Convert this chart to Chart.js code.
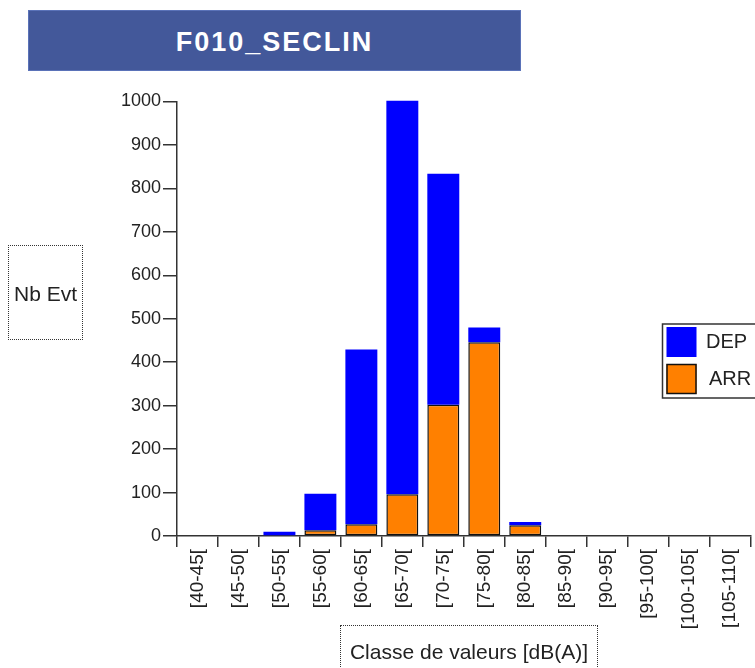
<!DOCTYPE html>
<html>
<head>
<meta charset="utf-8">
<script src="https://cdn.jsdelivr.net/npm/chart.js@4/dist/chart.umd.min.js"></script>
<style>
  html, body { margin: 0; padding: 0; background: #fff; overflow: hidden; }
  #wrap { position: relative; width: 755px; height: 668px; overflow: hidden; font-family: "Liberation Sans", Arial, sans-serif; }
  #c { position: absolute; left: 0; top: 0; }
  #title { position: absolute; left: 28px; top: 10px; width: 491px; height: 59px; background: #43589A; border: 1px solid #5A72B8;
           color: #fff; font-weight: bold; font-size: 27px; letter-spacing: 2px; text-align: center; line-height: 62px; }
  .box { position: absolute; border: 1.5px dotted #333; color: #222; font-size: 21px; text-align: center; }
  #ylab { left: 8px; top: 245px; width: 73px; height: 93px; line-height: 95px; }
  #xlab { left: 340px; top: 625px; width: 256px; height: 60px; line-height: 52px; font-size: 21px; }
</style>
</head>
<body>
<div id="wrap">
  <canvas id="c" width="755" height="668"></canvas>
  <div id="title">F010_SECLIN</div>
  <div class="box" id="ylab">Nb Evt</div>
  <div class="box" id="xlab">Classe de valeurs [dB(A)]</div>
</div>
<script>
const categories = ["[40-45[", "[45-50[", "[50-55[", "[55-60[", "[60-65[", "[65-70[", "[70-75[",
                    "[75-80[", "[80-85[", "[85-90[", "[90-95[", "[95-100[", "[100-105[", "[105-110["];
const depValues = [0, 0, 10, 84, 402, 906, 532, 34, 7, 0, 0, 0, 0, 0];
const arrValues = [0, 0, 0, 13, 27, 96, 302, 446, 25, 0, 0, 0, 0, 0];
const yMax = 1000;
const yStep = 100;

const legendPlugin = {
  id: 'boxLegend',
  afterDraw(chart) {
    const ctx = chart.ctx;
    ctx.save();
    const x0 = 662.5, y0 = 324, w = 100, h = 74;
    ctx.fillStyle = '#fff';
    ctx.fillRect(x0, y0, w, h);
    ctx.strokeStyle = '#333';
    ctx.lineWidth = 1.5;
    ctx.strokeRect(x0, y0, w, h);
    const items = chart.data.datasets.slice().reverse();
    items.forEach((ds, i) => {
      const sy = 327 + i * 37;
      ctx.fillStyle = ds.backgroundColor;
      ctx.fillRect(666.5, sy, 30, 30);
      if (ds.borderWidth) {
        ctx.strokeStyle = '#111';
        ctx.lineWidth = 1.5;
        ctx.strokeRect(667, sy + 0.5, 29, 29);
      }
      ctx.fillStyle = '#222';
      ctx.font = '20px "Liberation Sans", Arial, sans-serif';
      ctx.textBaseline = 'middle';
      ctx.textAlign = 'left';
      ctx.fillText(ds.label, 706 + i * 3, sy + 15);
    });
    ctx.restore();
  }
};

new Chart(document.getElementById('c'), {
  type: 'bar',
  data: {
    labels: categories,
    datasets: [
      { label: 'ARR', data: arrValues, backgroundColor: '#FF8000', borderColor: '#111', borderWidth: 1.5,
        borderSkipped: false, barPercentage: 0.78, categoryPercentage: 1.0 },
      { label: 'DEP', data: depValues, backgroundColor: '#0000FF', borderWidth: 0,
        barPercentage: 0.78, categoryPercentage: 1.0, clip: false }
    ]
  },
  options: {
    responsive: false,
    devicePixelRatio: 1,
    animation: false,
    layout: { padding: { top: 101.5, right: 3, left: 0, bottom: 0 } },
    plugins: { legend: { display: false }, title: { display: false }, tooltip: { enabled: false } },
    scales: {
      x: {
        stacked: true,
        afterFit(scale) { scale.height = 132; },
        grid: { drawOnChartArea: false, offset: true, tickLength: 11, color: '#333', lineWidth: 1.5 },
        border: { color: '#333', width: 1.5 },
        ticks: { autoSkip: false, minRotation: 90, maxRotation: 90, padding: 2, color: '#222',
                 font: { family: '"Liberation Sans", Arial, sans-serif', size: 19 } }
      },
      y: {
        stacked: true,
        min: 0, max: yMax,
        afterFit(scale) { scale.width = 177; },
        grid: { drawOnChartArea: false, tickLength: 14, color: '#333', lineWidth: 1.5 },
        border: { color: '#333', width: 1.5 },
        ticks: { stepSize: yStep, padding: 2, color: '#222',
                 callback: (v) => String(v),
                 font: { family: '"Liberation Sans", Arial, sans-serif', size: 18 } }
      }
    }
  },
  plugins: [legendPlugin]
});
</script>
</body>
</html>
